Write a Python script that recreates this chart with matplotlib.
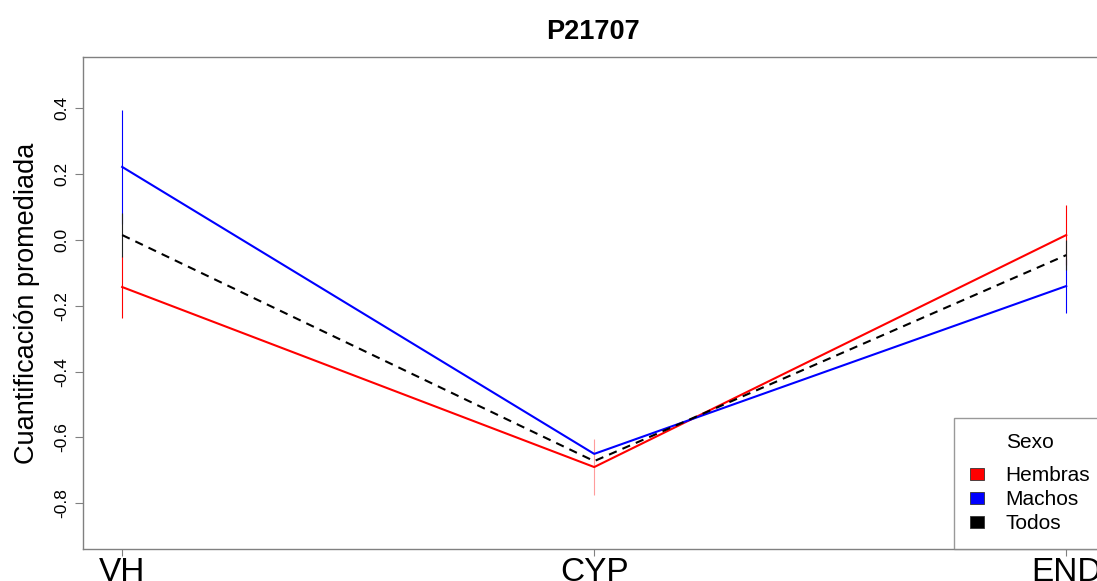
import matplotlib.pyplot as plt
from matplotlib.patches import Patch

plt.rcParams["font.family"] = ["Liberation Sans", "DejaVu Sans"]

tejidos = ["VH", "CYP", "END"]

media_hembras = [-0.143, -0.690, 0.015]
media_machos = [0.222, -0.650, -0.140]
media_todos = [0.015, -0.672, -0.046]

# semiamplitud de las barras de error
error_hembras = [0.094, 0.084, 0.091]
error_machos = [0.173, 0.0, 0.082]
error_todos = [0.067, 0.0, 0.046]

x = [1, 2, 3]

fig = plt.figure(figsize=(10.97, 5.81), dpi=100)
# el panel sigue un poco más allá del borde derecho de la figura
ax = fig.add_axes([83 / 1097, 32 / 581, 1021 / 1097, 492 / 581])

# barras de error (la de CYP se ve más clara)
color_err_h = ["red", "#ff9c9c", "red"]
for i in range(3):
    ax.vlines(x[i], media_machos[i] - error_machos[i], media_machos[i] + error_machos[i],
              color="blue", lw=0.8)
for i in range(3):
    ax.vlines(x[i], media_hembras[i] - error_hembras[i], media_hembras[i] + error_hembras[i],
              color=color_err_h[i], lw=0.8)
for i in range(3):
    ax.vlines(x[i], media_todos[i] - error_todos[i], media_todos[i] + error_todos[i],
              color="#222222", lw=0.8)

ax.plot(x, media_hembras, color="red", lw=1.5)
ax.plot(x, media_machos, color="blue", lw=1.5)
ax.plot(x, media_todos, color="black", lw=1.5, ls=(0, (4, 3)))

ax.set_xlim(0.917, 3.08)
ax.set_ylim(-0.939, 0.556)

ax.set_xticks(x)
ax.set_xticklabels(tejidos, fontsize=24)
ax.set_yticks([-0.8, -0.6, -0.4, -0.2, 0.0, 0.2, 0.4])
ax.set_yticklabels(["-0.8", "-0.6", "-0.4", "-0.2", "0.0", "0.2", "0.4"],
                   rotation=90, va="center", fontsize=12.5)
ax.tick_params(axis="x", length=5, pad=1, color="#808080")
ax.tick_params(axis="y", length=6, pad=4, color="#808080")

for lado in ["left", "top", "bottom", "right"]:
    ax.spines[lado].set_color("#808080")
    ax.spines[lado].set_linewidth(1)

ax.set_ylabel("Cuantificación promediada", fontsize=19.5, labelpad=10)
ax.set_title("P21707", fontsize=19.5, fontweight="bold", pad=13)

manijas = [
    Patch(facecolor="red", edgecolor="#333333", lw=0.6, label="Hembras"),
    Patch(facecolor="blue", edgecolor="#333333", lw=0.6, label="Machos"),
    Patch(facecolor="black", edgecolor="#333333", lw=0.6, label="Todos"),
]
leyenda = ax.legend(handles=manijas, title="Sexo", loc="lower left",
                    bbox_to_anchor=((954 - 83) / 1021, 0.0), fontsize=15,
                    title_fontsize=15, frameon=True, fancybox=False,
                    edgecolor="#808080", handlelength=0.7, handleheight=0.45,
                    handletextpad=1.0, labelspacing=0.24, borderpad=0.75,
                    borderaxespad=0.0)
leyenda.get_frame().set_linewidth(1)
# más aire entre el título "Sexo" y las entradas
leyenda._legend_box.sep = 10

fig.savefig("out.png", dpi=100)
